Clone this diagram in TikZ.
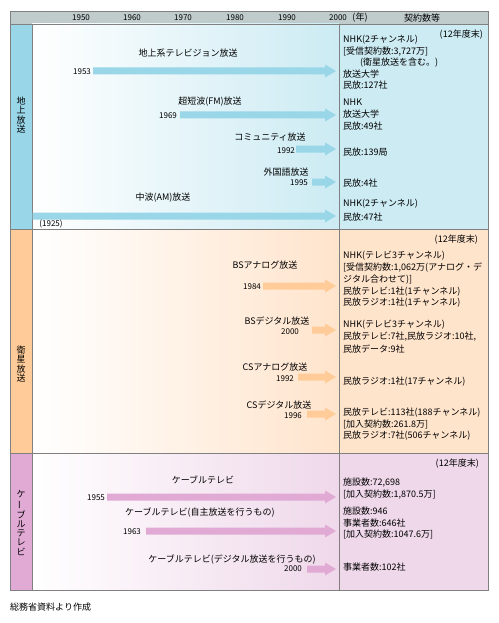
\documentclass[tikz,border=0pt]{standalone}
\usepackage{fontspec}
\setmainfont{Noto Sans CJK JP}
\definecolor{hdr}{HTML}{C0CCCC}
\definecolor{frm}{HTML}{808080}
\definecolor{blueL}{HTML}{99D6E8}
\definecolor{blueP}{HTML}{CCEBF3}
\definecolor{orgL}{HTML}{FFCC99}
\definecolor{orgP}{HTML}{FFE4CC}
\definecolor{pnkL}{HTML}{E0AAD4}
\definecolor{pnkP}{HTML}{EFD8EA}
\newcommand\tbar[4]{%
  \fill[#1] (#2,#4-3.5) -- (#3-11,#4-3.5) -- (#3-11,#4-6.5) -- (#3,#4) -- (#3-11,#4+6.5) -- (#3-11,#4+3.5) -- (#2,#4+3.5) -- cycle;}
\begin{document}
\begin{tikzpicture}[x=1pt,y=-1pt,
  frame/.style={draw=frm,line width=0.9pt},
  lbl/.style={font=\fontsize{9}{10}\selectfont,inner sep=0pt},
  yr/.style={font=\fontsize{8}{9}\selectfont,inner sep=0pt},
  rtxt/.style={font=\fontsize{9}{10}\selectfont,inner sep=0pt,anchor=west},
  vlab/.style={font=\fontsize{9}{9.2}\selectfont,inner sep=0pt,align=center}]
\useasboundingbox (0,0) rectangle (498,623);
% backgrounds
\fill[hdr] (10,11) rectangle (488,24);
\fill[blueL] (10,24) rectangle (32,229);
\shade[left color=white,right color=blueP] (32,24) rectangle (339,229);
\fill[blueP] (339,24) rectangle (488,229);
\fill[orgL] (10,229) rectangle (32,453);
\shade[left color=white,right color=orgP] (32,229) rectangle (339,453);
\fill[orgP] (339,229) rectangle (488,453);
\fill[pnkL] (10,453) rectangle (32,590);
\shade[left color=white,right color=pnkP] (32,453) rectangle (339,590);
\fill[pnkP] (339,453) rectangle (488,590);
% frame lines
\draw[frame] (10,11) rectangle (488,590);
\draw[frame] (10,24) -- (488,24);
\draw[frame] (10,229) -- (488,229);
\draw[frame] (10,453) -- (488,453);
\draw[frame] (32,24) -- (32,590);
\draw[frame] (339,24) -- (339,590);
% header
\node[yr] (h1950) at (81,18) {1950};
\node[yr] (h1960) at (132,18) {1960};
\node[yr] (h1970) at (183,18) {1970};
\node[yr] (h1980) at (235,18) {1980};
\node[yr] (h1990) at (287,18) {1990};
\node[yr] (h2000) at (338,18) {2000};
\node[lbl] (hnen) at (360,18) {(年)};
\node[lbl] (hkei) at (422,18) {契約数等};
% vertical labels
\node[vlab] (v1) at (21,115) {地\\上\\放\\送};
\node[vlab] (v2) at (21,364) {衛\\星\\放\\送};
\node[vlab] (v3) at (21,523) {ケ\\\rotatebox[origin=c]{90}{ー}\\ブ\\ル\\テ\\レ\\ビ};
% section 1 arrows
\tbar{blueL}{93}{336}{71}
\tbar{blueL}{180}{336}{115}
\tbar{blueL}{296}{336}{149}
\tbar{blueL}{312}{336}{182}
\tbar{blueL}{32.5}{336}{216}
\node[lbl] (a1) at (188,53) {地上系テレビジョン放送};
\node[lbl] (a2) at (210,102) {超短波(FM)放送};
\node[lbl] (a3) at (270,137) {コミュニティ放送};
\node[lbl] (a4) at (286,172) {外国語放送};
\node[lbl] (a5) at (163,198) {中波(AM)放送};
\node[yr] (y1) at (82,72) {1953};
\node[yr] (y2) at (168,116) {1969};
\node[yr] (y3) at (286,151) {1992};
\node[yr] (y4) at (299,183) {1995};
\node[yr] (y5) at (51,224) {(1925)};
% section 2 arrows
\tbar{orgL}{263}{336}{286}
\tbar{orgL}{312}{336}{330}
\tbar{orgL}{298}{336}{377}
\tbar{orgL}{307}{336}{414}
\node[lbl] (b1) at (265,265) {BSアナログ放送};
\node[lbl] (b2) at (277,321) {BSデジタル放送};
\node[lbl] (b3) at (275,367) {CSアナログ放送};
\node[lbl] (b4) at (279,405) {CSデジタル放送};
\node[yr] (z1) at (252,287) {1984};
\node[yr] (z2) at (290,332) {2000};
\node[yr] (z3) at (285,379) {1992};
\node[yr] (z4) at (293,416) {1996};
% section 3 arrows
\tbar{pnkL}{107}{336}{497}
\tbar{pnkL}{146}{336}{531}
\tbar{pnkL}{307}{336}{569}
\node[lbl] (c1) at (203,480) {ケーブルテレビ};
\node[lbl] (c2) at (200,513) {ケーブルテレビ(自主放送を行うもの)};
\node[lbl] (c3) at (232,560) {ケーブルテレビ(デジタル放送を行うもの)};
\node[yr] (w1) at (96,498) {1955};
\node[yr] (w2) at (132,532) {1963};
\node[yr] (w3) at (293,569) {2000};
% right column section 1
\node[lbl,anchor=east] (e1) at (483,35) {(12年度末)};
\node[rtxt] (r1) at (343,40) {NHK(2チャンネル)};
\node[rtxt] (r2) at (343,52) {[受信契約数:3,727万]};
\node[rtxt] (r3) at (360,63) {(衛星放送を含む。)};
\node[rtxt] (r4) at (343,74) {放送大学};
\node[rtxt] (r5) at (343,85) {民放:127社};
\node[rtxt] (r6) at (343,102) {NHK};
\node[rtxt] (r7) at (343,114) {放送大学};
\node[rtxt] (r8) at (343,126) {民放:49社};
\node[rtxt] (r9) at (343,152) {民放:139局};
\node[rtxt] (r10) at (343,183) {民放:4社};
\node[rtxt] (r11) at (343,204) {NHK(2チャンネル)};
\node[rtxt] (r12) at (343,217) {民放:47社};
% right column section 2
\node[lbl,anchor=east] (e2) at (478,240) {(12年度末)};
\node[rtxt] (s1) at (343,256) {NHK(テレビ3チャンネル)};
\node[rtxt] (s2) at (343,268) {[受信契約数:1,062万(アナログ・デ};
\node[rtxt] (s3) at (343,280) {ジタル合わせて)]};
\node[rtxt] (s4) at (343,292) {民放テレビ:1社(1チャンネル)};
\node[rtxt] (s5) at (343,303) {民放ラジオ:1社(1チャンネル)};
\node[rtxt] (s6) at (343,325) {NHK(テレビ3チャンネル)};
\node[rtxt] (s7) at (343,337) {民放テレビ:7社,民放ラジオ:10社,};
\node[rtxt] (s8) at (343,349) {民放データ:9社};
\node[rtxt] (s9) at (343,382) {民放ラジオ:1社(17チャンネル)};
\node[rtxt] (s10) at (343,413) {民放テレビ:113社(188チャンネル)};
\node[rtxt] (s11) at (343,424) {[加入契約数:261.8万]};
\node[rtxt] (s12) at (343,436) {民放ラジオ:7社(506チャンネル)};
% right column section 3
\node[lbl,anchor=east] (e3) at (479,464) {(12年度末)};
\node[rtxt] (t1) at (343,483) {施設数:72,698};
\node[rtxt] (t2) at (343,495) {[加入契約数:1,870.5万]};
\node[rtxt] (t3) at (343,511) {施設数:946};
\node[rtxt] (t4) at (343,523) {事業者数:646社};
\node[rtxt] (t5) at (343,534) {[加入契約数:1047.6万]};
\node[rtxt] (t6) at (343,567) {事業者数:102社};
% footer
\node[rtxt] (foot) at (10,607) {総務省資料より作成};
\end{tikzpicture}
\end{document}
